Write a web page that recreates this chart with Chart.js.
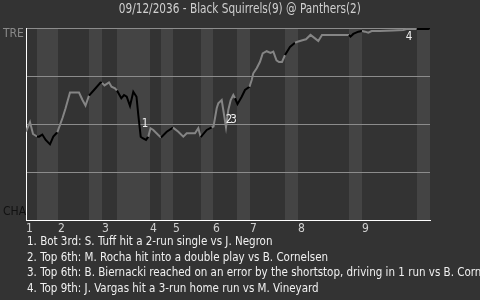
<!DOCTYPE html>
<html>
<head>
<meta charset="utf-8">
<script src="https://cdn.jsdelivr.net/npm/chart.js@4.4.1/dist/chart.umd.min.js"></script>
<style>
  html, body { margin: 0; padding: 0; background: #333333; }
  #wrap { position: relative; width: 480px; height: 300px; overflow: hidden; background: #333333; }
  #chart { position: absolute; left: 0; top: 0; }
  .txt { position: absolute; font-family: "DejaVu Sans Condensed", "Liberation Sans Narrow", sans-serif; white-space: nowrap; }
  #title { left: 0; width: 480px; top: 0; text-align: center; font-size: 14px; line-height: 17px; color: #d0d0d0; }
  #title span { display: inline-block; transform: scaleX(0.836); transform-origin: 50% 50%; }
  #notes { left: 27px; top: 234px; font-size: 12px; line-height: 15.7px; color: #f0f0f0; transform: scaleX(0.957); transform-origin: 0 0; }
</style>
</head>
<body>
<div id="wrap">
  <canvas id="chart" width="480" height="300"></canvas>
  <div id="title" class="txt"><span>09/12/2036 - Black Squirrels(9) @ Panthers(2)</span></div>
  <div id="notes" class="txt"></div>
</div>
<script>
// Game progress (plate-appearance timeline) where each half-inning begins; last entry is game end.
const halfInningStarts = [0, 11, 32, 63, 76, 91, 124, 135, 147, 175, 187, 211, 224, 259, 272, 323, 336, 391, 404];
const inningLabels = ['1', '2', '3', '4', '5', '6', '7', '8', '9'];

// Win expectancy timeline: progress position and home (TRE) win probability, %.
const progress = [
  0, 4, 7, 11,
  13, 16.3, 19.7, 24, 27.3, 31.3,
  34, 36.5, 39.5, 44, 53, 56.5, 59.5, 63,
  68, 74.5, 76,
  78.5, 83, 85.5, 89, 91,
  95.3, 98, 100.7, 104, 107.3, 110.5, 112.3, 114.7, 116.7, 120, 122.3, 124.5,
  127.3, 132.3, 135,
  140.7, 147,
  152.3, 157.3, 160.7, 169, 172.3, 174.7,
  180.7, 185.7, 187.5,
  190.7, 192.3, 195.7, 197.3, 200, 202.3, 204.7, 207.3, 209,
  211.5, 215.7, 219, 223.5,
  225.7, 227.3, 230.7, 234, 236.7, 240.7, 244.5, 247.3, 250.5, 253, 256, 259,
  264, 269, 272.3,
  277.3, 280, 284.5, 289, 292.3, 296, 310.7, 323,
  324.5, 327.3, 332.3, 336,
  339, 342.3, 345.7, 354, 367, 377.3, 380.7, 390.7,
  402.3, 404
];
const winProb = [
  46.1, 51.0, 44.8, 43.5,
  43.4, 44.5, 41.7, 39.4, 43.4, 45.7,
  49.5, 53.1, 58.1, 66.4, 66.4, 62.5, 59.6, 64.8,
  67.7, 71.6, 71.4,
  70.1, 71.7, 69.4, 68.6, 67.4,
  63.4, 65.1, 64.2, 59.4, 66.8, 64.2, 54.7, 43.4, 42.6, 41.7, 43.4, 47.8,
  46.9, 44.3, 43.0,
  46.0, 48.1,
  46.0, 43.4, 45.2, 45.2, 47.8, 43.2,
  46.9, 48.3, 48.7,
  58.2, 60.8, 62.5, 57.3, 48.3, 57.3, 62.5, 65.1, 63.4,
  60.4, 64.2, 67.7, 69.4,
  72.9, 76.4, 79.0, 82.4, 86.8, 87.9, 87.0, 87.7, 83.1, 82.3, 82.3, 85.9,
  90.1, 92.3, 93.0,
  93.75, 94.1, 96.4, 94.6, 93.2, 96.4, 96.4, 96.4,
  95.5, 96.9, 98.1, 98.4,
  98.1, 97.6, 98.4, 98.4, 98.7, 99.0, 99.5, 99.5,
  99.5, 100
];

// Key plays: marker text, position on the timeline and win probability where it is printed.
const keyPlayMarks = ['1', '2', '3', '4'];
const keyPlayProgress = [119, 203, 207.5, 383];
const keyPlayWinProb = [50, 52, 52, 95.5];
const keyPlayNotes = [
  '1. Bot 3rd: S. Tuff hit a 2-run single vs J. Negron',
  '2. Top 6th: M. Rocha hit into a double play vs B. Cornelsen',
  '3. Top 6th: B. Biernacki reached on an error by the shortstop, driving in 1 run vs B. Cornelsen',
  '4. Top 9th: J. Vargas hit a 3-run home run vs M. Vineyard'
];

const teamTop = 'TRE';
const teamBottom = 'CHA';

const FONT = '"DejaVu Sans Condensed", "Liberation Sans Narrow", sans-serif';
const AWAY_COLOR = '#858585';
const HOME_COLOR = '#000000';

document.getElementById('notes').innerHTML = keyPlayNotes.map(n => '<div>' + n + '</div>').join('');

function halfIndex(x) {
  let idx = 0;
  for (let i = 0; i < halfInningStarts.length - 1; i++) {
    if (x > halfInningStarts[i]) idx = i;
  }
  return idx;
}

const points = progress.map((p, i) => ({ x: p, y: winProb[i] }));

// Shaded bands for the bottom half of each inning, plus marker and team labels
const bandsPlugin = {
  id: 'bands',
  beforeDraw(chart) {
    const { ctx, chartArea, scales } = chart;
    ctx.save();
    ctx.fillStyle = '#333333';
    ctx.fillRect(0, 0, chart.width, chart.height);
    ctx.fillStyle = '#444444';
    for (let i = 1; i < halfInningStarts.length - 1; i += 2) {
      const x0 = Math.round(scales.x.getPixelForValue(halfInningStarts[i]));
      const x1 = Math.round(scales.x.getPixelForValue(halfInningStarts[i + 1]));
      ctx.fillRect(x0, chartArea.top, x1 - x0, chartArea.bottom - chartArea.top);
    }
    ctx.restore();
  },
  afterDatasetsDraw(chart) {
    const { ctx, scales } = chart;
    ctx.save();
    ctx.textAlign = 'center';
    ctx.textBaseline = 'middle';
    // key play markers
    ctx.font = '11.5px ' + FONT;
    ctx.fillStyle = '#f0f0f0';
    keyPlayMarks.forEach((m, i) => {
      ctx.fillText(m, scales.x.getPixelForValue(keyPlayProgress[i]), scales.y.getPixelForValue(keyPlayWinProb[i]));
    });
    // team labels at the ends of the probability axis
    ctx.textAlign = 'left';
    ctx.font = '12px ' + FONT;
    ctx.fillStyle = '#8a8a8a';
    ctx.fillText(teamTop, 3, scales.y.getPixelForValue(100) + 6);
    ctx.fillStyle = '#111111';
    ctx.fillText(teamBottom, 3, scales.y.getPixelForValue(0) - 8);
    ctx.restore();
  }
};

new Chart(document.getElementById('chart'), {
  type: 'line',
  data: {
    datasets: [{
      data: points,
      borderWidth: 2,
      borderColor: AWAY_COLOR,
      pointRadius: 0,
      tension: 0,
      segment: {
        borderColor: c => (halfIndex(c.p1.parsed.x) % 2 === 0 ? AWAY_COLOR : HOME_COLOR)
      }
    }]
  },
  options: {
    responsive: false,
    animation: false,
    devicePixelRatio: 1,
    layout: { padding: { left: 26, right: 50, top: 28, bottom: 64 } },
    plugins: { legend: { display: false }, title: { display: false }, tooltip: { enabled: false } },
    scales: {
      x: {
        type: 'linear',
        min: 0,
        max: 404,
        afterBuildTicks: s => { s.ticks = halfInningStarts.filter((v, i) => i % 2 === 0 && i < 18).map(v => ({ value: v })); },
        afterFit: s => { s.height = 16; },
        grid: { display: false, drawTicks: false },
        border: { color: '#ffffff', width: 1 },
        ticks: {
          autoSkip: false,
          maxRotation: 0,
          align: 'start',
          padding: 2,
          color: '#d0d0d0',
          font: { family: FONT, size: 12 },
          callback: (v, i) => inningLabels[i]
        }
      },
      y: {
        min: 0,
        max: 100,
        afterFit: s => { s.width = 0; },
        ticks: { display: false, stepSize: 25 },
        grid: { color: '#8c8c8c', lineWidth: 1, drawTicks: false },
        border: { color: '#ffffff', width: 1 }
      }
    }
  },
  plugins: [bandsPlugin]
});
</script>
</body>
</html>
